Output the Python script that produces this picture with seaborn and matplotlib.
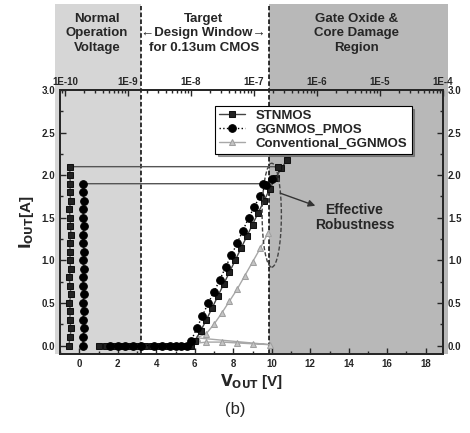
import matplotlib
matplotlib.use("Agg")
import matplotlib.pyplot as plt
import seaborn as sns
import numpy as np
import pandas as pd
from matplotlib.patches import Rectangle, Ellipse

# ---------------- data ----------------
# TLP I-V curves (V_OUT [V], I_OUT [A])
st_v = [1.0, 1.4, 1.8, 2.2, 2.6, 3.0, 3.4, 3.8, 4.2, 4.6, 5.0, 5.4, 5.8,
        6.0, 6.3, 6.6, 6.9, 7.2, 7.5, 7.8, 8.1, 8.4, 8.7, 9.0, 9.3, 9.6, 9.9, 10.2, 10.5, 10.8]
st_i = [0, 0, 0, 0, 0, 0, 0, 0, 0, 0, 0, 0, 0,
        0.05, 0.17, 0.30, 0.44, 0.58, 0.72, 0.86, 1.00, 1.14, 1.28, 1.42, 1.56, 1.70, 1.84, 1.97, 2.08, 2.18]

gp_v = [1.6, 2.0, 2.4, 2.8, 3.2, 3.9, 4.3, 4.7, 5.0, 5.3, 5.6,
        5.8, 6.1, 6.4, 6.7, 7.0, 7.3, 7.6, 7.9, 8.2, 8.5, 8.8, 9.1, 9.4, 9.7, 10.0]
gp_i = [0, 0, 0, 0, 0, 0, 0, 0, 0, 0, 0,
        0.05, 0.20, 0.35, 0.50, 0.63, 0.77, 0.92, 1.06, 1.20, 1.35, 1.50, 1.63, 1.76, 1.88, 1.95]

cv_v = [1.4, 2.0, 2.6, 3.6, 4.4, 5.2, 5.8, 6.6, 7.4, 8.2, 9.0, 9.9,
        6.1, 6.6, 7.0, 7.4, 7.8, 8.2, 8.6, 9.0, 9.4, 9.8]
cv_i = [0, 0, 0, 0, 0, 0, 0.02, 0.04, 0.04, 0.03, 0.02, 0.01,
        0.09, 0.14, 0.25, 0.38, 0.52, 0.66, 0.82, 0.98, 1.14, 1.32]

# leakage after each pulse (top axis, leakage [A]) vs I_OUT [A]
st_leak_i = [0.0, 0.1, 0.2, 0.3, 0.4, 0.5, 0.6, 0.7, 0.8, 0.9, 1.0, 1.1, 1.2, 1.3,
             1.4, 1.5, 1.6, 1.7, 1.8, 1.9, 2.0, 2.1, 2.1]
st_leak = [1.15e-10, 1.2e-10, 1.25e-10, 1.18e-10, 1.22e-10, 1.17e-10, 1.24e-10, 1.2e-10,
           1.16e-10, 1.23e-10, 1.19e-10, 1.21e-10, 1.18e-10, 1.24e-10, 1.22e-10, 1.2e-10,
           1.17e-10, 1.23e-10, 1.19e-10, 1.22e-10, 1.18e-10, 1.21e-10, 2.4e-7]
gp_leak_i = [0.0, 0.1, 0.2, 0.3, 0.4, 0.5, 0.6, 0.7, 0.8, 0.9, 1.0, 1.1, 1.2, 1.3,
             1.4, 1.5, 1.6, 1.7, 1.8, 1.9, 1.9]
gp_leak = [1.9e-10, 1.95e-10, 2.0e-10, 1.92e-10, 1.98e-10, 1.93e-10, 2.0e-10, 1.95e-10,
           1.9e-10, 1.97e-10, 1.94e-10, 2.0e-10, 1.96e-10, 1.92e-10, 1.98e-10, 1.95e-10,
           1.93e-10, 1.99e-10, 1.96e-10, 1.95e-10, 1.4e-7]

x_ticks = [0, 2, 4, 6, 8, 10, 12, 14, 16, 18]
y_ticks = [0.0, 0.5, 1.0, 1.5, 2.0, 2.5, 3.0]
top_ticks = [1e-10, 1e-9, 1e-8, 1e-7, 1e-6, 1e-5, 1e-4]
top_labels = ["1E-10", "1E-9", "1E-8", "1E-7", "1E-6", "1E-5", "1E-4"]

# ---------------- style ----------------
sns.set_style("ticks")
plt.rcParams["font.family"] = ["Liberation Sans", "DejaVu Sans"]
plt.rcParams["font.weight"] = "bold"

fig = plt.figure(figsize=(4.7, 4.33), dpi=100)
ax = fig.add_axes([0.1277, 0.1824, 0.815, 0.6097])
ax.set_xlim(-1, 18.9)
ax.set_ylim(-0.1, 3.0)

# shaded regions (extending above axes into header)
xt = ax.get_xaxis_transform()
ax.add_patch(Rectangle((-1.25, 0), 3.2 + 1.25, 1.325, transform=xt, clip_on=False,
                       facecolor="#d6d6d6", edgecolor="none", zorder=0))
ax.add_patch(Rectangle((9.85, 0), 19.15 - 9.85, 1.325, transform=xt, clip_on=False,
                       facecolor="#b8b8b8", edgecolor="none", zorder=0))
for xv in (3.2, 9.85):
    ax.axvline(xv, ymin=0, ymax=1.32, clip_on=False, color="black", ls=(0, (3, 1.5)), lw=1.1, zorder=1)

# I-V curves
common = dict(sort=False, estimator=None, lw=1.0)
sns.lineplot(x=cv_v, y=cv_i, ax=ax, color="#a8a8a8", marker="^", markersize=5,
             markeredgecolor="#a0a0a0", markerfacecolor="#c4c4c4", label="Conventional_GGNMOS",
             zorder=3, **common)
sns.lineplot(x=st_v, y=st_i, ax=ax, color="#444444", marker="s", markersize=5,
             markeredgecolor="#111111", markerfacecolor="#222222", label="STNMOS", zorder=4, **common)
sns.lineplot(x=gp_v, y=gp_i, ax=ax, color="#000000", ls=":", marker="o", markersize=5.5,
             markeredgecolor="black", markerfacecolor="black", label="GGNMOS_PMOS", zorder=5, **common)

# leakage on top log axis
ax2 = ax.twiny()
ax2.set_xscale("log")
ax2.set_xlim(10 ** -10.08, 1e-4)
sns.lineplot(x=st_leak, y=st_leak_i, ax=ax2, color="#555555", marker="s", markersize=5,
             markeredgecolor="#111111", markerfacecolor="#222222", legend=False, **common)
sns.lineplot(x=gp_leak, y=gp_leak_i, ax=ax2, color="#555555", marker="o", markersize=5.5,
             markeredgecolor="black", markerfacecolor="black", legend=False, **common)
ax2.set_ylim(-0.1, 3.0)

# ellipse + annotation
ax.add_patch(Ellipse((10.0, 1.53), 1.0, 1.22, fill=False, ls=(0, (3, 1.5)), ec="#444444", lw=1.0, zorder=6))
ax.annotate("", xy=(12.4, 1.63), xytext=(10.3, 1.8),
            arrowprops=dict(arrowstyle="-|>", color="#333333", lw=1.0), zorder=7)
ax.text(14.3, 1.5, "Effective\nRobustness", ha="center", va="center", fontsize=10,
        fontweight="bold", linespacing=1.05, zorder=7)

# axes ticks / labels
ax.set_xticks(x_ticks)
ax.set_xticks(np.arange(-1, 19, 1), minor=True)
ax.set_yticks(y_ticks)
ax.set_yticks(np.arange(0, 3.01, 0.25), minor=True)
ax.set_yticklabels([f"{v:.1f}" for v in y_ticks])
ax.tick_params(axis="both", which="both", direction="in", labelsize=7, width=1.0)
ax.tick_params(axis="y", which="both", right=True, labelright=True)
ax.tick_params(which="major", length=4)
ax.tick_params(which="minor", length=2)
ax.set_xlabel(r"$\mathbf{V_{OUT}}$ [V]", fontsize=11, fontweight="bold", labelpad=2)
ax.set_ylabel(r"$\mathbf{I_{OUT}}$[A]", fontsize=11, fontweight="bold", labelpad=4)

ax2.set_xticks(top_ticks)
ax2.set_xticklabels(top_labels)
ax2.tick_params(axis="x", which="both", direction="in", labelsize=7, width=1.0, pad=2)
ax2.tick_params(axis="x", which="major", length=4)
ax2.tick_params(axis="x", which="minor", length=2)
for a in (ax, ax2):
    for s in a.spines.values():
        s.set_linewidth(1.3)
    a.grid(False)

# region header labels
hdr = dict(ha="center", va="center", fontsize=9.5, fontweight="bold", linespacing=1.3,
           transform=ax.transAxes, clip_on=False)
ax.text(0.097, 1.215, "Normal\nOperation\nVoltage", **hdr)
ax.text(0.375, 1.215, "Target\n\u2190Design Window\u2192\nfor 0.13um CMOS", **hdr)
ax.text(0.775, 1.215, "Gate Oxide &\nCore Damage\nRegion", **hdr)

# legend
handles, labels = ax.get_legend_handles_labels()
order = [labels.index("STNMOS"), labels.index("GGNMOS_PMOS"), labels.index("Conventional_GGNMOS")]
ax.get_legend().remove()
leg = ax2.legend([handles[i] for i in order], [labels[i] for i in order],
                 loc="upper right", bbox_to_anchor=(0.935, 0.965), fancybox=False, shadow=True,
                 edgecolor="black", framealpha=1, fontsize=9.5, handlelength=2.0,
                 borderpad=0.3, labelspacing=0.12, handletextpad=0.8)
leg.get_frame().set_linewidth(0.8)
for t in leg.get_texts():
    t.set_fontweight("bold")

fig.text(0.5, 0.055, "(b)", ha="center", va="center", fontsize=12, fontweight="normal")

fig.savefig("out.png", dpi=100)
